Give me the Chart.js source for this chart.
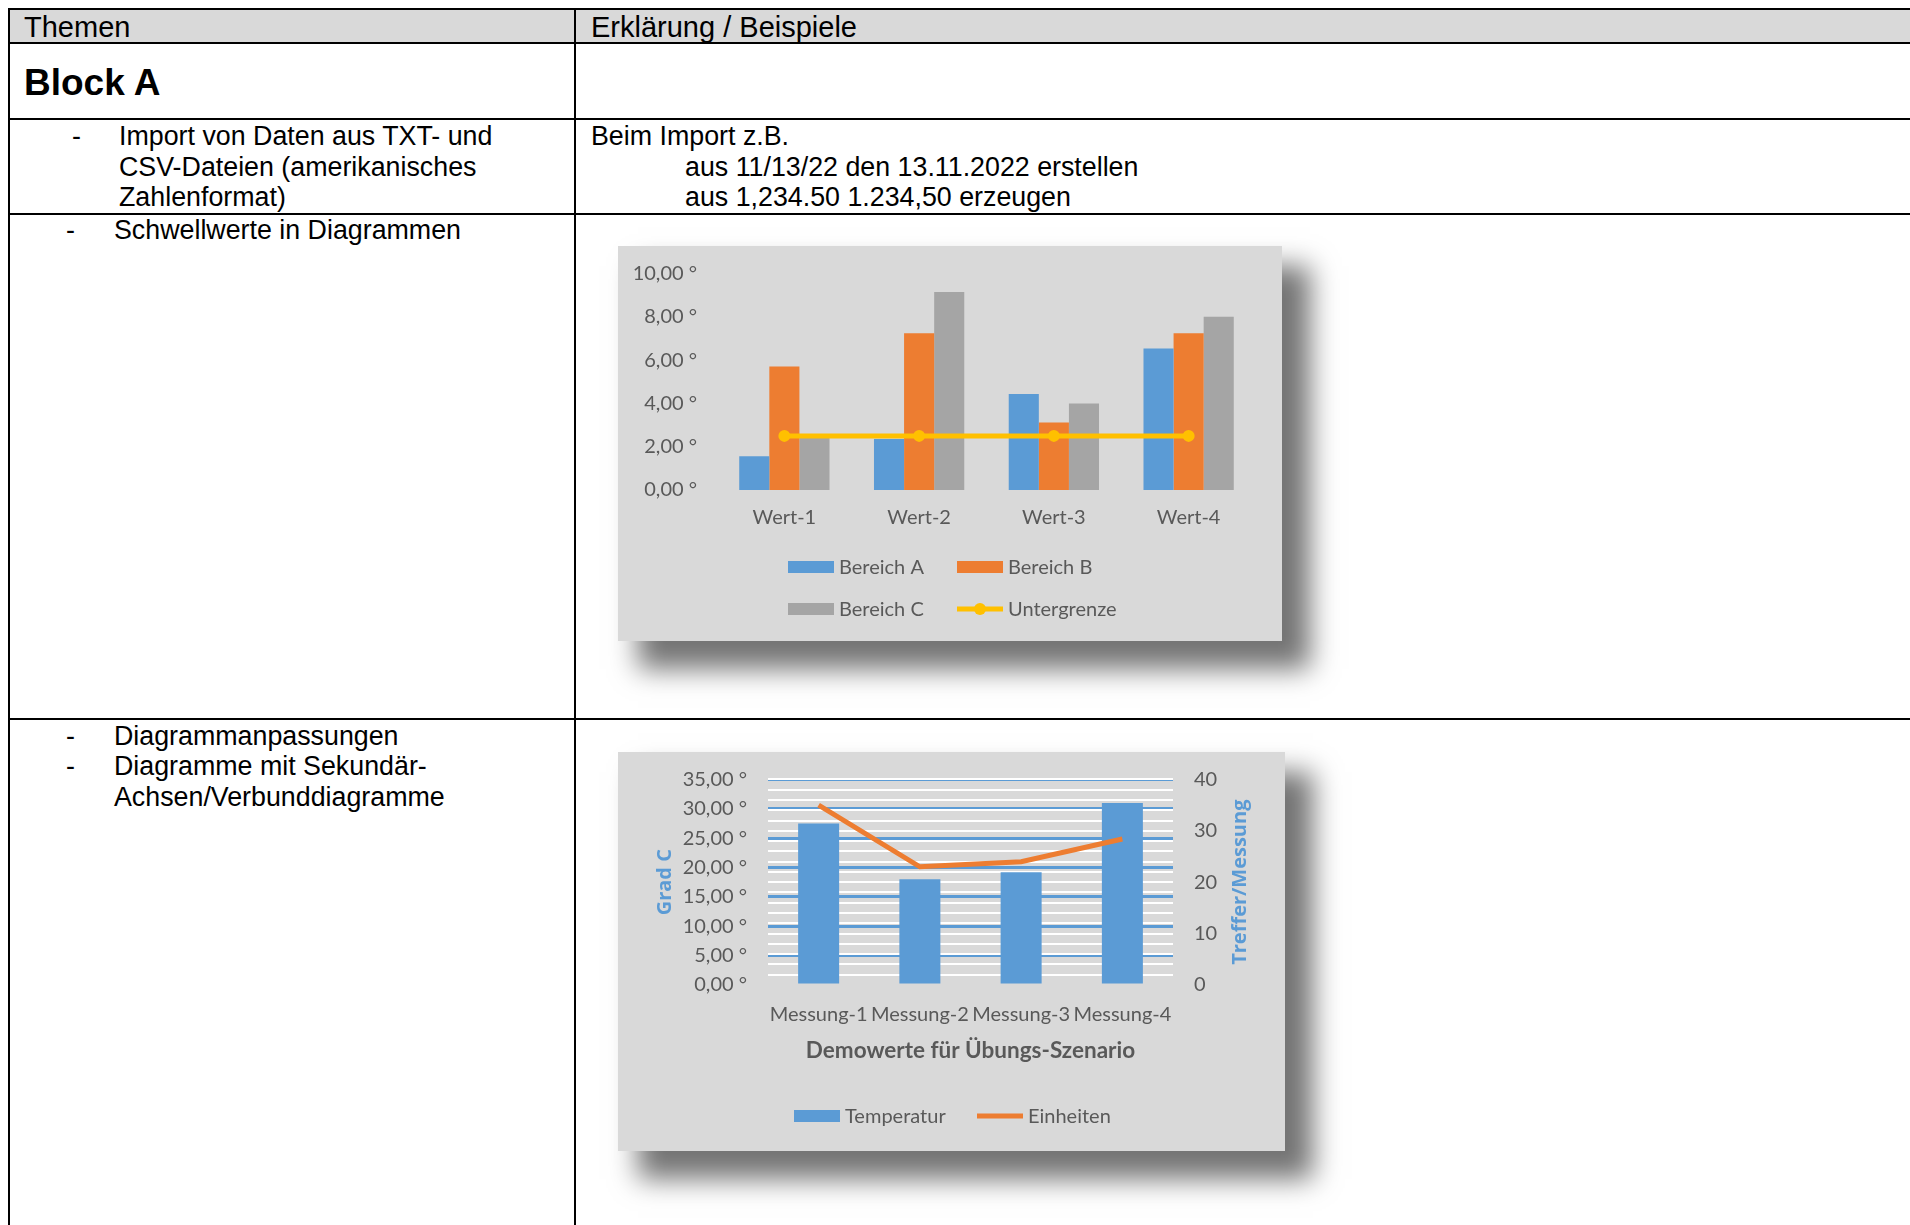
<!DOCTYPE html>
<html lang="de">
<head>
<meta charset="utf-8">
<title>Themen</title>
<script src="https://cdn.jsdelivr.net/npm/chart.js@4.4.1/dist/chart.umd.min.js"></script>
<style>
  html, body { margin: 0; padding: 0; background: #fff; }
  body { width: 1910px; height: 1225px; overflow: hidden; position: relative;
         font-family: "Liberation Sans", Arial, sans-serif; color: #000; }
  .hl { position: absolute; left: 8px; right: 0; height: 2px; background: #000; }
  .vl { position: absolute; top: 8px; bottom: 0; width: 2px; background: #000; }
  .t  { position: absolute; font-size: 26.8px; line-height: 30.5px; white-space: nowrap; }
  .head { position: absolute; top: 10px; left: 10px; right: 0; height: 32px; background: #d9d9d9; }
  .panel { position: absolute; background: #d9d9d9;
           box-shadow: 24px 24px 26px 4px rgba(0,0,0,0.55); }
  .panel canvas { display: block; }
</style>
</head>
<body>

<div class="head"></div>
<div class="hl" style="top:8px"></div>
<div class="hl" style="top:42px"></div>
<div class="hl" style="top:118px"></div>
<div class="hl" style="top:213px"></div>
<div class="hl" style="top:718px"></div>
<div class="vl" style="left:8px"></div>
<div class="vl" style="left:574px"></div>

<div class="t" style="left:24px; top:11px; font-size:29px; line-height:32px">Themen</div>
<div class="t" style="left:591px; top:11px; font-size:29px; line-height:32px">Erklärung / Beispiele</div>
<div class="t" style="left:24px; top:63px; font-size:37px; line-height:40px; font-weight:bold">Block A</div>

<div class="t" style="left:72px; top:121px">-</div>
<div class="t" style="left:119px; top:121px">Import von Daten aus TXT- und<br>CSV-Dateien (amerikanisches<br>Zahlenformat)</div>
<div class="t" style="left:591px; top:121px">Beim Import z.B.</div>
<div class="t" style="left:685px; top:151.5px">aus 11/13/22 den 13.11.2022 erstellen<br>aus 1,234.50 1.234,50 erzeugen</div>

<div class="t" style="left:66px; top:215px">-</div>
<div class="t" style="left:114px; top:215px">Schwellwerte in Diagrammen</div>

<div class="t" style="left:66px; top:720.5px">-<br>-</div>
<div class="t" style="left:114px; top:720.5px">Diagrammanpassungen<br>Diagramme mit Sekundär-<br>Achsen/Verbunddiagramme</div>

<div class="panel" style="left:618px; top:246px; width:664px; height:395px">
  <canvas id="chart1" width="664" height="395"></canvas>
</div>
<div class="panel" style="left:618px; top:752px; width:667px; height:399px">
  <canvas id="chart2" width="667" height="399"></canvas>
</div>

<script>
// Schwellwerte
const wertLabels = ['Wert-1', 'Wert-2', 'Wert-3', 'Wert-4'];
const bereichA = [1.56, 2.35, 4.43, 6.54];
const bereichB = [5.7, 7.24, 3.12, 7.24];
const bereichC = [2.4, 9.14, 4.0, 8.0];
const untergrenze = [2.5, 2.5, 2.5, 2.5];

// Sekundaerachse
const messLabels = ['Messung-1', 'Messung-2', 'Messung-3', 'Messung-4'];
const temperatur = [27.5, 18.0, 19.2, 31.0];
const einheiten = [35, 23, 24, 28.4];

const gray = '#595959';
const blue = '#5B9BD5';
const orange = '#ED7D31';

Chart.defaults.font.family = 'Lato';
Chart.defaults.font.size = 20;
Chart.defaults.color = gray;

const gradFmt = v => v.toFixed(2).replace('.', ',') + ' °';

// fixed axis width; label overhang should not push the plot area
const fixWidth = w => s => { s.width = w; s.paddingTop = 0; s.paddingBottom = 0; };

// Excel-like legend laid out in columns
const boxLegend = {
  id: 'boxLegend',
  afterDraw(chart, args, opts) {
    const ctx = chart.ctx;
    ctx.save();
    ctx.font = '20px Lato';
    ctx.textBaseline = 'middle';
    chart.data.datasets.forEach((ds, i) => {
      const x = opts.x[i % opts.cols];
      const y = opts.y[Math.floor(i / opts.cols)];
      if (ds.type === 'line') {
        ctx.strokeStyle = ds.borderColor;
        ctx.lineWidth = ds.borderWidth;
        ctx.beginPath();
        ctx.moveTo(x, y);
        ctx.lineTo(x + opts.box, y);
        ctx.stroke();
        if (ds.pointRadius) {
          ctx.fillStyle = ds.pointBackgroundColor;
          ctx.beginPath();
          ctx.arc(x + opts.box / 2, y, ds.pointRadius, 0, Math.PI * 2);
          ctx.fill();
        }
      } else {
        ctx.fillStyle = ds.backgroundColor;
        ctx.fillRect(x, y - 6, opts.box, 12);
      }
      ctx.fillStyle = gray;
      ctx.fillText(ds.label, x + opts.box + 5, y + 1);
    });
    ctx.restore();
  }
};

// right axis title, reading bottom to top like Excel
const sideTitle = {
  id: 'sideTitle',
  afterDraw(chart, args, opts) {
    const ctx = chart.ctx, a = chart.chartArea;
    ctx.save();
    ctx.translate(opts.x, (a.top + a.bottom) / 2);
    ctx.rotate(-Math.PI / 2);
    ctx.font = 'bold 20px "Open Sans"';
    ctx.fillStyle = blue;
    ctx.textAlign = 'center';
    ctx.textBaseline = 'middle';
    ctx.fillText(opts.text, 0, 0);
    ctx.restore();
  }
};

new Chart(document.getElementById('chart1'), {
  type: 'bar',
  data: {
    labels: wertLabels,
    datasets: [
      { label: 'Bereich A', data: bereichA, backgroundColor: blue, order: 1 },
      { label: 'Bereich B', data: bereichB, backgroundColor: orange, order: 1 },
      { label: 'Bereich C', data: bereichC, backgroundColor: '#A5A5A5', order: 1 },
      { type: 'line', label: 'Untergrenze', data: untergrenze, borderColor: '#FFC000',
        backgroundColor: '#FFC000', pointBackgroundColor: '#FFC000', pointBorderColor: '#FFC000',
        borderWidth: 5, pointRadius: 6, pointBorderWidth: 0, order: 0 }
    ]
  },
  options: {
    responsive: false,
    animation: false,
    layout: { padding: { top: 27.5, right: 26, bottom: 111, left: 0 } },
    datasets: { bar: { categoryPercentage: 0.67, barPercentage: 1 } },
    scales: {
      x: {
        grid: { display: false, drawTicks: false },
        border: { display: false },
        ticks: { padding: 16, maxRotation: 0, autoSkip: false },
        afterFit: s => { s.height = 40; }
      },
      y: {
        min: 0, max: 10,
        grid: { display: false, drawTicks: false },
        border: { display: false },
        ticks: { stepSize: 2, padding: 20, callback: v => gradFmt(v) },
        afterFit: fixWidth(99)
      }
    },
    plugins: {
      legend: { display: false },
      tooltip: { enabled: false },
      boxLegend: { cols: 2, box: 46, x: [170, 339], y: [321, 363] }
    }
  },
  plugins: [boxLegend]
});

new Chart(document.getElementById('chart2'), {
  type: 'bar',
  data: {
    labels: messLabels,
    datasets: [
      { label: 'Temperatur', data: temperatur, backgroundColor: blue, yAxisID: 'y', order: 1 },
      { type: 'line', label: 'Einheiten', data: einheiten, borderColor: orange,
        backgroundColor: orange, borderWidth: 5, pointRadius: 0, yAxisID: 'y2', order: 0 }
    ]
  },
  options: {
    responsive: false,
    animation: false,
    layout: { padding: { top: 27.4, right: 0, bottom: 78, left: 0 } },
    datasets: { bar: { categoryPercentage: 0.405, barPercentage: 1 } },
    scales: {
      x: {
        grid: { display: false, drawTicks: false },
        border: { display: false },
        ticks: { padding: 18, maxRotation: 0, minRotation: 0, autoSkip: false },
        title: { display: true, text: 'Demowerte für Übungs-Szenario', color: gray,
                 font: { size: 22.5, weight: 'bold' }, padding: { top: 0, bottom: 9 } },
        afterFit: s => { s.height = 88; }
      },
      y: {
        position: 'left', min: 0, max: 35,
        grid: { color: c => c.tick.value === 0 ? 'rgba(0,0,0,0)' : blue, lineWidth: 3, drawTicks: false },
        border: { display: false },
        ticks: { stepSize: 5, padding: 21, autoSkip: false, callback: v => gradFmt(v) },
        title: { display: true, text: 'Grad C', color: blue,
                 font: { family: 'Open Sans', size: 20, weight: 'bold' }, padding: { top: 35 } },
        afterFit: fixWidth(150)
      },
      y2: {
        position: 'right', min: 0, max: 40,
        grid: { color: c => c.tick.value === 0 ? 'rgba(0,0,0,0)' : '#ffffff', lineWidth: 2, drawTicks: false },
        border: { display: false },
        ticks: { stepSize: 2, maxTicksLimit: 30, padding: 21, autoSkip: false,
                 callback: v => (v % 10 === 0 ? String(v) : '') },
        afterFit: fixWidth(112)
      }
    },
    plugins: {
      legend: { display: false },
      tooltip: { enabled: false },
      boxLegend: { cols: 2, box: 46, x: [176, 359], y: [364] },
      sideTitle: { text: 'Treffer/Messung', x: 622 }
    }
  },
  plugins: [boxLegend, sideTitle]
});
</script>
</body>
</html>
